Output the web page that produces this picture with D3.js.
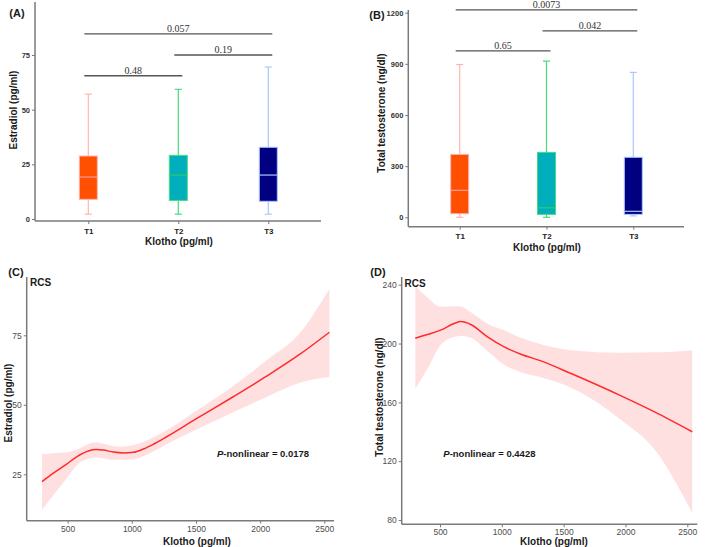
<!DOCTYPE html>
<html>
<head>
<meta charset="utf-8">
<script src="https://cdn.jsdelivr.net/npm/d3@7"></script>
<style>
  html, body { margin: 0; padding: 0; background: #fff; }
  svg { display: block; font-family: "Liberation Sans", Arial, sans-serif; }
</style>
</head>
<body>
<svg id="chart" width="709" height="547"></svg>
<script>
// ---------- DATA ----------
const groups = ["T1", "T2", "T3"];
// box stats: [low whisker, Q1, median, Q3, high whisker]
const estradiolBox = [
  [2.2, 9.0, 19.2, 28.8, 57.1],
  [2.2, 8.5, 20.1, 29.1, 59.3],
  [2.2, 8.1, 20.1, 32.8, 69.5]
];
const testosteroneBox = [
  [0, 21, 158, 369, 896],
  [0, 17, 56, 381, 916],
  [8, 17, 35, 352, 850]
];
const estradiolPairs = [
  { from: "T1", to: "T2", y: 65.5, label: "0.48" },
  { from: "T2", to: "T3", y: 75.0, label: "0.19" },
  { from: "T1", to: "T3", y: 84.7, label: "0.057" }
];
const testosteronePairs = [
  { from: "T1", to: "T2", y: 976, label: "0.65" },
  { from: "T2", to: "T3", y: 1093, label: "0.042" },
  { from: "T1", to: "T3", y: 1217, label: "0.0073" }
];
const boxFill = ["#FF4F00", "#00AFBB", "#000080"];
const boxLine = ["#FFB4AE", "#45DB80", "#A9C8FF"];
const boxMedian = ["#FF9A94", "#2FC86A", "#A9C8FF"];

const yTicksA = [0, 25, 50, 75];
const yTicksB = [0, 300, 600, 900, 1200];
const xTicksRCS = [500, 1000, 1500, 2000, 2500];
const yTicksC = [25, 50, 75];
const yTicksD = [80, 120, 160, 200, 240];

// RCS curve C: Klotho vs Estradiol
const klothoC = [300, 388, 492, 570, 661, 726, 778, 856, 934, 1012, 1090, 1167, 1271, 1500, 1790, 2050, 2310, 2540];
const estradiolFit = [22.4, 25.4, 28.7, 31.3, 33.4, 33.9, 33.7, 33.0, 32.7, 32.9, 34.1, 35.8, 38.5, 44.9, 52.9, 60.3, 68.2, 76.1];
const estradiolUpper = [32.3, 32.6, 32.9, 33.8, 35.9, 36.5, 36.0, 35.2, 35.0, 35.5, 36.6, 38.3, 40.9, 47.8, 56.8, 66.0, 75.8, 91.7];
const estradiolLower = [12.2, 17.5, 23.5, 28.3, 30.6, 31.0, 30.8, 30.2, 30.2, 30.4, 31.5, 33.2, 35.8, 41.0, 47.3, 52.8, 57.9, 60.0];

// RCS curve D: Klotho vs Total testosterone
const klothoD = [300, 397, 505, 614, 668, 749, 884, 1019, 1154, 1316, 1560, 1965, 2235, 2540];
const testoFit = [203.6, 206.1, 209.1, 213.6, 214.9, 212.9, 204.5, 197.7, 192.7, 188.2, 179.6, 164.4, 153.5, 140.0];
const testoUpper = [239.0, 231.5, 225.0, 225.4, 225.2, 221.2, 213.5, 209.0, 204.0, 199.5, 195.5, 193.8, 194.0, 195.5];
const testoLower = [169.4, 182.5, 199.0, 204.5, 205.2, 204.0, 195.0, 185.5, 180.5, 177.0, 170.0, 148.0, 128.0, 84.9];

// ---------- DRAW ----------
const svg = d3.select("#chart");
const axisColor = "#7a7a7a";
const SANS = "Liberation Sans, Arial, sans-serif";
const SERIF = "Liberation Serif, Times New Roman, serif";

function styleAxis(g, tickFontSize, tickWeight, tickColor) {
  g.select(".domain").remove();
  g.selectAll(".tick line").attr("stroke", axisColor).attr("stroke-width", 1);
  g.selectAll(".tick text")
    .attr("font-size", tickFontSize)
    .attr("font-weight", tickWeight)
    .attr("fill", tickColor)
    .attr("font-family", SANS);
}

function axesFrame(x0, x1, yTop, yBottom) {
  svg.append("line").attr("x1", x0).attr("x2", x0).attr("y1", yTop).attr("y2", yBottom)
    .attr("stroke", axisColor).attr("stroke-width", 1.5);
  svg.append("line").attr("x1", x0).attr("x2", x1).attr("y1", yBottom).attr("y2", yBottom)
    .attr("stroke", axisColor).attr("stroke-width", 1.5);
}

function label(x, y, txt, opts = {}) {
  const t = svg.append("text").attr("x", x).attr("y", y).text(txt)
    .attr("font-size", opts.size || 10)
    .attr("font-weight", opts.weight || "bold")
    .attr("fill", opts.fill || "#1a1a1a")
    .attr("font-family", opts.family || SANS)
    .attr("text-anchor", opts.anchor || "middle")
    .attr("dominant-baseline", "central");
  if (opts.rotate) t.attr("transform", `rotate(-90, ${x}, ${y})`);
  return t;
}

function boxPanel(cfg) {
  const { x, y, stats, pairs, axisX, axisYBottom, axisYTop, axisXEnd, yTicks } = cfg;
  axesFrame(axisX, axisXEnd, axisYTop, axisYBottom);
  const yAxis = svg.append("g").attr("transform", `translate(${axisX},0)`)
    .call(d3.axisLeft(y).tickValues(yTicks).tickSize(3).tickPadding(2).tickFormat(d3.format("d")));
  styleAxis(yAxis, 7.5, "bold", "#333");
  const xAxis = svg.append("g").attr("transform", `translate(0,${axisYBottom})`)
    .call(d3.axisBottom(x).tickSize(3).tickPadding(4));
  styleAxis(xAxis, 8, "bold", "#222");

  const bw = 18, cw = 7;
  groups.forEach((gname, i) => {
    const s = stats[i];
    const cx = x(gname);
    const g = svg.append("g");
    g.append("line").attr("x1", cx).attr("x2", cx).attr("y1", y(s[4])).attr("y2", y(s[3]))
      .attr("stroke", boxLine[i]).attr("stroke-width", 1.2);
    g.append("line").attr("x1", cx).attr("x2", cx).attr("y1", y(s[1])).attr("y2", y(s[0]))
      .attr("stroke", boxLine[i]).attr("stroke-width", 1.2);
    g.append("line").attr("x1", cx - cw / 2).attr("x2", cx + cw / 2).attr("y1", y(s[4])).attr("y2", y(s[4]))
      .attr("stroke", boxLine[i]).attr("stroke-width", 1.2);
    g.append("line").attr("x1", cx - cw / 2).attr("x2", cx + cw / 2).attr("y1", y(s[0])).attr("y2", y(s[0]))
      .attr("stroke", boxLine[i]).attr("stroke-width", 1.2);
    g.append("rect").attr("x", cx - bw / 2).attr("width", bw)
      .attr("y", y(s[3])).attr("height", y(s[1]) - y(s[3]))
      .attr("fill", boxFill[i]).attr("stroke", boxLine[i]).attr("stroke-width", 1);
    g.append("line").attr("x1", cx - bw / 2).attr("x2", cx + bw / 2).attr("y1", y(s[2])).attr("y2", y(s[2]))
      .attr("stroke", boxMedian[i]).attr("stroke-width", 1.2);
  });

  pairs.forEach(p => {
    const x1 = x(p.from) - 4, x2 = x(p.to) + 4;
    svg.append("line").attr("x1", x1).attr("x2", x2).attr("y1", y(p.y)).attr("y2", y(p.y))
      .attr("stroke", "#555").attr("stroke-width", 1.3);
    svg.append("text").attr("x", (x1 + x2) / 2).attr("y", y(p.y) - 2)
      .attr("text-anchor", "middle").attr("font-size", 10)
      .attr("font-family", SERIF)
      .attr("fill", "#333").text(p.label);
  });
}

// Panel A
const xA = d3.scalePoint().domain(groups).range([88.3, 268.3]);
const yA = d3.scaleLinear().domain([0, 75]).range([219, 55]);
boxPanel({ x: xA, y: yA, stats: estradiolBox, pairs: estradiolPairs, axisX: 35, axisYBottom: 221, axisYTop: 2, axisXEnd: 321, yTicks: yTicksA });
label(17, 13, "(A)", { size: 11 });
label(13, 110, "Estradiol (pg/ml)", { rotate: true });
label(179, 241, "Klotho (pg/ml)");

// Panel B
const xB = d3.scalePoint().domain(groups).range([459.7, 633.3]);
const yB = d3.scaleLinear().domain([0, 1200]).range([217.3, 12.7]);
boxPanel({ x: xB, y: yB, stats: testosteroneBox, pairs: testosteronePairs, axisX: 408.3, axisYBottom: 226.7, axisYTop: 10, axisXEnd: 684, yTicks: yTicksB });
label(377, 15, "(B)", { size: 11 });
label(381, 113, "Total testosterone (ng/dl)", { rotate: true });
label(547, 247.5, "Klotho (pg/ml)");

// RCS panels
function rcsPanel(cfg) {
  const { x, y, xs, fit, up, lo, axisX, axisYBottom, axisYTop, axisXEnd, yTicks } = cfg;
  const area = d3.area().x((d, i) => x(xs[i])).y0((d, i) => y(lo[i])).y1((d, i) => y(up[i]))
    .curve(d3.curveMonotoneX);
  svg.append("path").datum(xs).attr("d", area).attr("fill", "#FFE0E1");
  const line = d3.line().x((d, i) => x(xs[i])).y((d, i) => y(fit[i])).curve(d3.curveMonotoneX);
  svg.append("path").datum(xs).attr("d", line).attr("fill", "none")
    .attr("stroke", "#FF2A2A").attr("stroke-width", 1.5);
  axesFrame(axisX, axisXEnd, axisYTop, axisYBottom);
  const yAxis = svg.append("g").attr("transform", `translate(${axisX},0)`)
    .call(d3.axisLeft(y).tickValues(yTicks).tickSize(3).tickPadding(2));
  styleAxis(yAxis, 8.5, "normal", "#4d4d4d");
  const xAxis = svg.append("g").attr("transform", `translate(0,${axisYBottom})`)
    .call(d3.axisBottom(x).tickValues(xTicksRCS).tickSize(3).tickPadding(2).tickFormat(d3.format("d")));
  styleAxis(xAxis, 8.5, "normal", "#4d4d4d");
}

function pLabel(x, y, val) {
  const t = svg.append("text").attr("x", x).attr("y", y).attr("font-size", 9.5)
    .attr("font-family", SANS)
    .attr("font-weight", "bold").attr("fill", "#1a1a1a").attr("dominant-baseline", "central");
  t.append("tspan").attr("font-style", "italic").text("P");
  t.append("tspan").text("-nonlinear = " + val);
}

// Panel C
const xC = d3.scaleLinear().domain([500, 2500]).range([67.7, 324.3]);
const yC = d3.scaleLinear().domain([25, 75]).range([474.3, 335.3]);
rcsPanel({ x: xC, y: yC, xs: klothoC, fit: estradiolFit, up: estradiolUpper, lo: estradiolLower,
  axisX: 26.7, axisYBottom: 520.7, axisYTop: 277, axisXEnd: 334, yTicks: yTicksC });
label(16, 272, "(C)", { size: 11 });
label(30, 282, "RCS", { anchor: "start" });
pLabel(217, 452.7, "0.0178");
label(8, 403, "Estradiol (pg/ml)", { rotate: true });
label(197, 541, "Klotho (pg/ml)");

// Panel D
const xD = d3.scaleLinear().domain([500, 2500]).range([440, 687.3]);
const yD = d3.scaleLinear().domain([80, 240]).range([520, 284.7]);
rcsPanel({ x: xD, y: yD, xs: klothoD, fit: testoFit, up: testoUpper, lo: testoLower,
  axisX: 401.7, axisYBottom: 524.3, axisYTop: 277, axisXEnd: 697.3, yTicks: yTicksD });
label(378, 272, "(D)", { size: 11 });
label(404.5, 283.5, "RCS", { anchor: "start" });
pLabel(443.3, 452.7, "0.4428");
label(379, 397, "Total testosterone (ng/dl)", { rotate: true });
label(554, 541.5, "Klotho (pg/ml)");
</script>
</body>
</html>
